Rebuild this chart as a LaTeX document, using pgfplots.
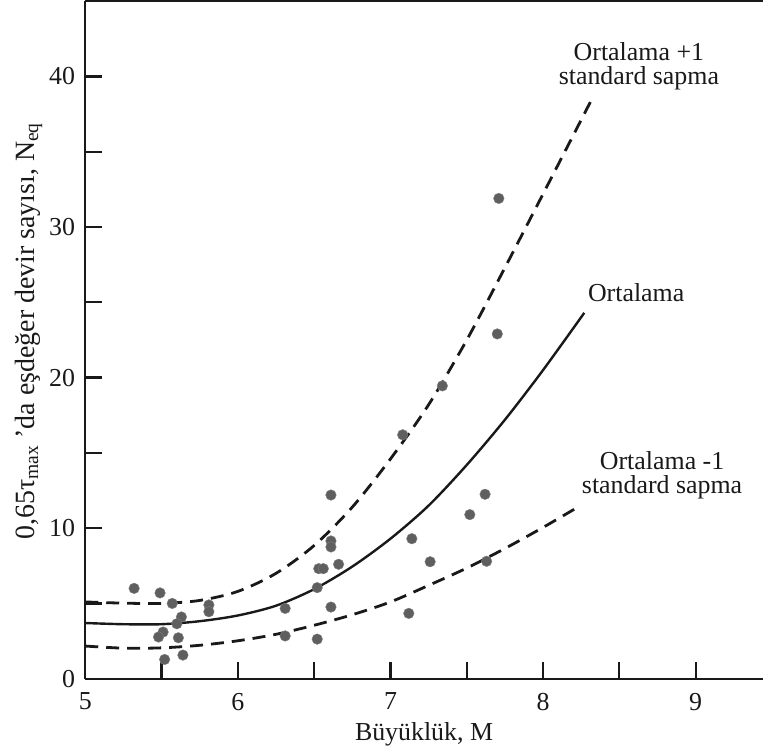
\documentclass[border=0pt]{standalone}
\usepackage{fontspec}
\setmainfont{Liberation Serif}
\usepackage{pgfplots}
\pgfplotsset{compat=1.18}
\definecolor{dotgray}{RGB}{95,95,95}
\definecolor{ink}{RGB}{25,25,25}
\begin{document}
\fontsize{26}{24}\selectfont
\begin{tikzpicture}
\begin{axis}[
  scale only axis, width=678bp, height=678bp,
  xmin=5, xmax=9.44, ymin=0, ymax=45,
  axis x line*=box, axis y line*=left,
  xtick pos=left,
  axis line style={line width=2.4bp, ink, -},
  tick align=inside,
  major tick length=17bp, minor tick length=17bp,
  every tick/.style={ink, line width=2.2bp},
  xtick={5,6,7,8,9}, minor xtick={5.5,6.5,7.5,8.5},
  ytick={0,10,20,30,40}, minor ytick={5,15,25,35},
  /pgf/number format/assume math mode=true,
  every tick label/.append style={inner sep=0pt, text=ink},
  xticklabel style={yshift=-14bp},
  yticklabel style={xshift=-10bp},
  every axis x label/.style={at={(axis description cs:0.5,-0.091)}, anchor=base, inner sep=0pt, inner ysep=7bp, text=ink},
  every axis y label/.style={at={(axis description cs:-0.0752,0.513)}, rotate=90, anchor=base, inner sep=0pt, inner ysep=15bp, text=ink, font=\fontsize{28}{28}\selectfont},
  xlabel={Büyüklük, M},
  ylabel={0,65τ\textsubscript{max} ’da eşdeğer devir sayısı, N\textsubscript{eq}},
]
% mean
\addplot[ink, line width=2.4bp, smooth] coordinates {
(5.0,3.70) (5.25,3.62) (5.5,3.62) (5.75,3.82) (6.0,4.2) (6.25,4.85) (6.5,5.95)
(6.75,7.45) (7.0,9.3) (7.25,11.5) (7.5,14.2) (7.75,17.2) (8.0,20.5) (8.27,24.3)};
% mean + 1 sd
\addplot[ink, line width=2.8bp, smooth, dash pattern=on 13bp off 8bp] coordinates {
(5.0,5.1) (5.25,5.02) (5.5,5.0) (5.75,5.2) (6.0,5.8) (6.25,7.0) (6.5,8.85)
(6.75,11.4) (7.0,14.6) (7.25,18.2) (7.5,22.5) (7.75,27.3) (8.0,32.2) (8.32,38.5)};
% mean - 1 sd
\addplot[ink, line width=2.8bp, smooth, dash pattern=on 13bp off 8bp] coordinates {
(5.0,2.17) (5.25,2.03) (5.5,2.05) (5.75,2.22) (6.0,2.52) (6.25,2.95) (6.5,3.55)
(6.75,4.25) (7.0,5.1) (7.25,6.2) (7.5,7.35) (7.75,8.65) (8.0,10.05) (8.22,11.35)};
% data points
\addplot[only marks, mark=*, mark size=5.3bp, dotgray, mark options={draw=dotgray!80!white, fill=dotgray}] coordinates {
(5.32,6.0) (5.49,5.7) (5.57,5.0) (5.81,4.9) (5.81,4.45) (5.63,4.1) (5.60,3.65)
(5.51,3.1) (5.48,2.77) (5.61,2.72) (5.52,1.28) (5.64,1.57) (6.31,4.67) (6.31,2.84)
(6.52,2.63) (7.34,19.45) (7.08,16.2) (6.61,12.2) (7.62,12.25) (7.52,10.9)
(6.61,9.15) (6.61,8.75) (7.14,9.3) (6.53,7.31) (6.56,7.31) (6.66,7.6) (7.26,7.77)
(7.63,7.8) (6.52,6.05) (6.61,4.76) (7.12,4.34) (7.71,31.9) (7.70,22.9)};
\node[align=center, inner sep=0pt, text=ink] at (axis cs:8.628,40.67) {Ortalama +1\\standard sapma};
\node[anchor=base, inner sep=0pt, text=ink] at (axis cs:8.61,25.05) {Ortalama};
\node[align=center, inner sep=0pt, text=ink] at (axis cs:8.78,13.5) {Ortalama -1\\standard sapma};
\end{axis}
\end{tikzpicture}
\end{document}
